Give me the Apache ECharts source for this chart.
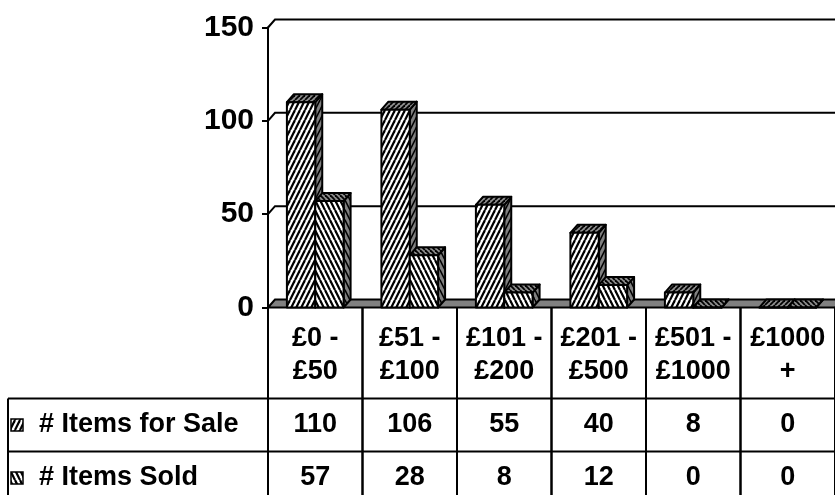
<!DOCTYPE html>
<html>
<head>
<meta charset="utf-8">
<script src="https://cdn.jsdelivr.net/npm/echarts@6/dist/echarts.min.js"></script>
<style>
html, body { margin: 0; padding: 0; background: #fff; }
#main { width: 835px; height: 495px; }
</style>
</head>
<body>
<div id="main"></div>
<script>
// data
var categories = ['£0 -\n£50', '£51 -\n£100', '£101 -\n£200', '£201 -\n£500', '£501 -\n£1000', '£1000\n+'];
var seriesNames = ['# Items for Sale', '# Items Sold'];
var forSale = [110, 106, 55, 40, 8, 0];
var itemsSold = [57, 28, 8, 12, 0, 0];
var yTicks = [0, 50, 100, 150];

var FONT = '"Liberation Sans", Arial, sans-serif';
var DX = 7, DY = -8;           // 3d depth
var HEAD_H = 91, ROW_H = 53;   // table rows

//*****hatch patterns
function hatch(bg, fg, dir, w, h, lw) {
    var c = document.createElement('canvas')
    c.width = w; c.height = h
    var g = c.getContext('2d')
    g.fillStyle = bg
    g.fillRect(0, 0, w, h)
    g.strokeStyle = fg
    g.lineWidth = lw
    for (var k = -1; k <= 1; k++) {
        g.beginPath()
        if (dir > 0) { g.moveTo(k * w, h); g.lineTo(k * w + w, 0) }
        else { g.moveTo(k * w, 0); g.lineTo(k * w + w, h) }
        g.stroke()
    }
    return { image: c, repeat: 'repeat' }
}
var pats = [
    { front: hatch('#fff', '#000', 1, 5, 10, 2.2), side: hatch('#808080', '#000', 1, 5, 10, 1.6), top: hatch('#8c8c8c', '#000', 1, 5, 5, 1.8) },
    { front: hatch('#fff', '#000', -1, 5, 10, 2.2), side: hatch('#808080', '#000', -1, 5, 10, 1.6), top: hatch('#8c8c8c', '#000', -1, 5, 5, 1.8) }
]

function barItem(idx) {
    return function (params, api) {
        var cat = api.value(0), v = api.value(1)
        var base = api.coord([cat, 0]), top = api.coord([cat, v])
        var bw = api.size([1, 0])[0] * 0.3
        var x0 = idx === 0 ? base[0] - bw : base[0], x1 = x0 + bw
        var yb = base[1], yt = top[1]
        var line = { stroke: '#000', lineWidth: 2, lineJoin: 'round' }
        return {
            type: 'group',
            children: [
                { type: 'polygon', shape: { points: [[x1, yt], [x1 + DX, yt + DY], [x1 + DX, yb + DY], [x1, yb]] },
                  style: Object.assign({ fill: pats[idx].side }, line) },
                { type: 'polygon', shape: { points: [[x0, yt], [x0 + DX, yt + DY], [x1 + DX, yt + DY], [x1, yt]] },
                  style: Object.assign({ fill: pats[idx].top }, line) },
                { type: 'rect', shape: { x: x0, y: yt, width: bw, height: yb - yt },
                  style: Object.assign({ fill: pats[idx].front }, line) }
            ]
        }
    }
}

function wallItem(params, api) {
    var band = api.size([1, 0])[0]
    var left = api.coord([0, 0])[0] - band / 2
    var right = api.coord([categories.length - 1, 0])[0] + band / 2
    var W = api.getWidth()
    var y0 = api.coord([0, 0])[1]
    var kids = [{
        type: 'polygon',
        shape: { points: [[left, y0], [left + DX, y0 + DY], [right + DX, y0 + DY], [right, y0]] },
        style: { fill: '#808080', stroke: '#000', lineWidth: 2 }
    }]
    yTicks.slice(1).forEach(function (t) {
        var y = api.coord([0, t])[1]
        kids.push({
            type: 'polyline',
            shape: { points: [[left, y], [left + DX, y + DY], [W + 20, y + DY]] },
            style: { stroke: '#000', lineWidth: 2, fill: null }
        })
    })
    return { type: 'group', children: kids }
}

function tableItem(params, api) {
    var i = api.value(0)
    var band = api.size([1, 0])[0]
    var cx = api.coord([i, 0])[0], y0 = api.coord([i, 0])[1]
    var xl = cx - band / 2, xr = cx + band / 2
    var r1 = y0 + HEAD_H, r2 = r1 + ROW_H, r3 = r2 + ROW_H
    var st = { stroke: '#000', lineWidth: 2, fill: null }
    var txt = function (s, y) {
        return { type: 'text', style: { text: s, x: cx, y: y, align: 'center', verticalAlign: 'middle',
            font: 'bold 27px ' + FONT, fill: '#000', lineHeight: 33 } }
    }
    return {
        type: 'group',
        children: [
            { type: 'line', shape: { x1: xl, y1: y0, x2: xl, y2: r3 }, style: st },
            { type: 'line', shape: { x1: xr, y1: y0, x2: xr, y2: r3 }, style: st },
            { type: 'line', shape: { x1: xl, y1: r1, x2: xr, y2: r1 }, style: st },
            { type: 'line', shape: { x1: xl, y1: r2, x2: xr, y2: r2 }, style: st },
            txt(categories[i], y0 + HEAD_H / 2 + 2),
            txt(String(api.value(1)), r1 + ROW_H / 2),
            txt(String(api.value(2)), r2 + ROW_H / 2)
        ]
    }
}

var myChart = echarts.init(document.getElementById('main'))
var gridLeft = 268, gridTop = 27.5, gridBottom = 187.5
var y0 = 495 - gridBottom
var nameFont = 'bold 27px ' + FONT

myChart.setOption({
    animation: false,
    backgroundColor: '#fff',
    grid: { left: gridLeft, top: gridTop, bottom: gridBottom, width: 575 },
    xAxis: {
        type: 'category', data: categories,
        axisLine: { show: false }, axisTick: { show: false }, axisLabel: { show: false }
    },
    yAxis: {
        type: 'value', min: 0, max: 150, interval: 50,
        axisLine: { show: true, lineStyle: { color: '#000', width: 2 } },
        axisTick: { show: true, length: 6, lineStyle: { color: '#000', width: 2 } },
        axisLabel: { color: '#000', fontWeight: 'bold', fontSize: 30, fontFamily: FONT, margin: 14 },
        splitLine: { show: false }
    },
    graphic: [
        { type: 'line', shape: { x1: 8, y1: y0 + HEAD_H, x2: gridLeft, y2: y0 + HEAD_H }, style: { stroke: '#000', lineWidth: 2 } },
        { type: 'line', shape: { x1: 8, y1: y0 + HEAD_H + ROW_H, x2: gridLeft, y2: y0 + HEAD_H + ROW_H }, style: { stroke: '#000', lineWidth: 2 } },
        { type: 'line', shape: { x1: 8, y1: y0 + HEAD_H, x2: 8, y2: 520 }, style: { stroke: '#000', lineWidth: 2 } },
        { type: 'rect', shape: { x: 11, y: y0 + HEAD_H + ROW_H / 2 - 6, width: 12, height: 12 }, style: { fill: pats[0].front, stroke: '#000', lineWidth: 1.5 } },
        { type: 'rect', shape: { x: 11, y: y0 + HEAD_H + ROW_H * 1.5 - 6, width: 12, height: 12 }, style: { fill: pats[1].front, stroke: '#000', lineWidth: 1.5 } },
        { type: 'text', style: { text: seriesNames[0], x: 39, y: y0 + HEAD_H + ROW_H / 2, verticalAlign: 'middle', font: nameFont, fill: '#000' } },
        { type: 'text', style: { text: seriesNames[1], x: 39, y: y0 + HEAD_H + ROW_H * 1.5, verticalAlign: 'middle', font: nameFont, fill: '#000' } }
    ],
    series: [
        { type: 'custom', name: 'wall', renderItem: wallItem, data: [[0]], z: 1, silent: true, clip: false },
        { type: 'custom', name: seriesNames[0], renderItem: barItem(0), data: forSale.map(function (v, i) { return [i, v] }), z: 2, clip: false },
        { type: 'custom', name: seriesNames[1], renderItem: barItem(1), data: itemsSold.map(function (v, i) { return [i, v] }), z: 3, clip: false },
        { type: 'custom', name: 'table', renderItem: tableItem,
          data: forSale.map(function (v, i) { return [i, v, itemsSold[i]] }), z: 4, silent: true, clip: false }
    ]
})
</script>
</body>
</html>
